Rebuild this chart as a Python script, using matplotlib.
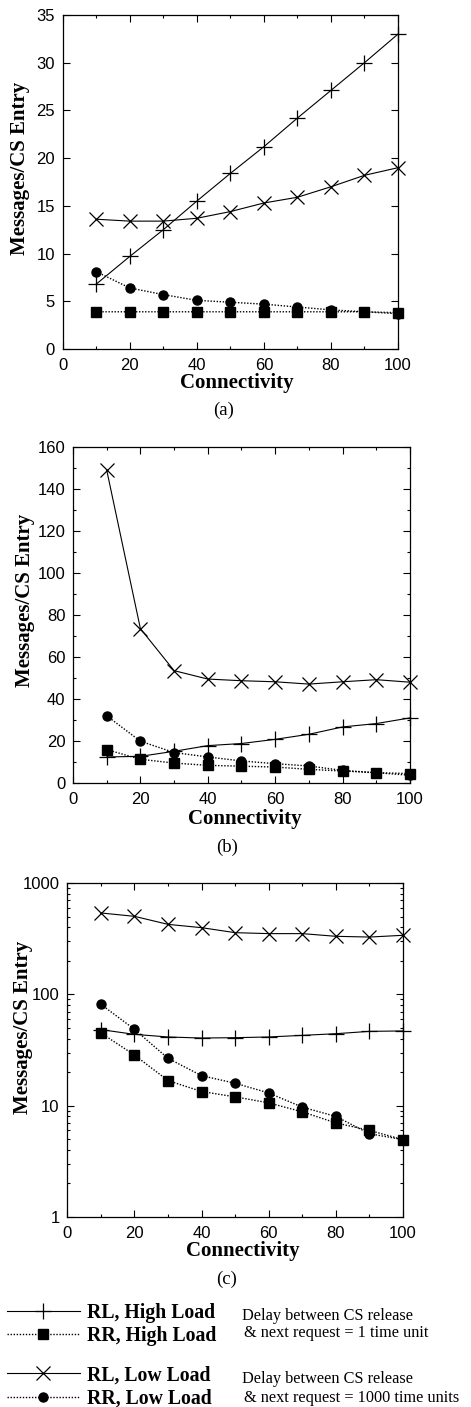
import numpy as np
import matplotlib
matplotlib.use("Agg")
import matplotlib.pyplot as plt
from matplotlib.ticker import MultipleLocator, LogLocator, NullFormatter, FuncFormatter

# connectivity values (x axis)
connectivity = [10, 20, 30, 40, 50, 60, 70, 80, 90, 100]

# (a)
a_rl_high = [6.8, 9.7, 12.5, 15.5, 18.4, 21.2, 24.2, 27.1, 30.0, 33.0]
a_rr_high = [3.9, 3.9, 3.9, 3.9, 3.9, 3.9, 3.9, 3.9, 3.9, 3.8]
a_rl_low = [13.6, 13.4, 13.4, 13.7, 14.4, 15.3, 15.9, 17.0, 18.2, 19.0]
a_rr_low = [8.1, 6.4, 5.7, 5.1, 4.9, 4.7, 4.4, 4.1, 3.9, 3.7]

# (b)
b_rl_high = [12.4, 12.7, 15.1, 17.8, 18.8, 20.8, 23.2, 26.7, 28.3, 31.0]
b_rr_high = [15.9, 11.3, 9.5, 8.4, 8.0, 7.6, 6.5, 5.7, 4.9, 4.5]
b_rl_low = [149.0, 73.5, 53.5, 49.5, 48.7, 48.2, 47.1, 48.2, 49.2, 48.0]
b_rr_low = [32.0, 19.9, 14.5, 12.4, 10.5, 9.2, 8.1, 6.0, 4.9, 3.7]

# (c)
c_rl_high = [48.2, 43.7, 41.4, 40.5, 40.8, 41.4, 42.8, 44.3, 46.5, 46.9]
c_rr_high = [45.0, 28.5, 16.8, 13.4, 12.0, 10.6, 8.8, 7.0, 6.0, 4.95]
c_rl_low = [538, 502, 425, 397, 358, 351, 351, 332, 327, 339]
c_rr_low = [81.3, 48.5, 26.6, 18.6, 15.9, 13.0, 9.7, 8.0, 5.6, 4.95]

labels = ["RL, High Load", "RR, High Load", "RL, Low Load", "RR, Low Load"]

W, H = 471, 1407
fig = plt.figure(figsize=(W / 100, H / 100), dpi=100)

SANS = "Liberation Sans"
SERIF = "Liberation Serif"


def px(x0, y0, x1, y1):
    return [x0 / W, 1 - y1 / H, (x1 - x0) / W, (y1 - y0) / H]


def draw(ax, rl_high, rr_high, rl_low, rr_low):
    h1, = ax.plot(connectivity, rl_high, color="black", lw=0.8, ls="-",
                  marker="+", ms=11, mew=0.9, clip_on=False)
    h2, = ax.plot(connectivity, rr_high, color="black", lw=1.0, ls=(0, (1, 1.2)),
                  marker="s", ms=6.5, clip_on=False)
    h3, = ax.plot(connectivity, rl_low, color="black", lw=0.8, ls="-",
                  marker="x", ms=10, mew=0.9, clip_on=False)
    h4, = ax.plot(connectivity, rr_low, color="black", lw=1.0, ls=(0, (1, 1.2)),
                  marker="o", ms=6.5, clip_on=False)
    ax.set_xlim(0, 100)
    ax.xaxis.set_major_locator(MultipleLocator(20))
    ax.xaxis.set_minor_locator(MultipleLocator(10))
    ax.tick_params(which="both", direction="in", top=True, right=True, width=0.8)
    ax.tick_params(which="major", length=5, labelsize=12)
    ax.tick_params(axis="x", which="major", pad=6.5)
    ax.tick_params(axis="y", which="major", pad=5.5)
    ax.tick_params(which="minor", length=2.5)
    for s in ax.spines.values():
        s.set_linewidth(0.9)
    return [h1, h2, h3, h4]


def sans_ticks(ax):
    for lab in ax.get_xticklabels() + ax.get_yticklabels():
        lab.set_fontfamily(SANS)


def captions(cx, cap_x, ylab_x, ylab_y, conn_y, cap_y, cap):
    fig.text(cx / W, 1 - conn_y / H, "Connectivity", family=SERIF,
             weight="bold", size=15, ha="center", va="center")
    fig.text(cap_x / W, 1 - cap_y / H, cap, family=SERIF, size=13.5,
             ha="center", va="center")
    fig.text(ylab_x / W, 1 - ylab_y / H, "Messages/CS Entry", family=SERIF,
             weight="bold", size=15, rotation=90, ha="center", va="center")


# (a)
ax_a = fig.add_axes(px(62.7, 15, 398, 349))
draw(ax_a, a_rl_high, a_rr_high, a_rl_low, a_rr_low)
ax_a.set_ylim(0, 35)
ax_a.yaxis.set_major_locator(MultipleLocator(5))
sans_ticks(ax_a)
captions(237, 224, 20, 168, 383, 410, "(a)")

# (b)
ax_b = fig.add_axes(px(73, 447, 410, 783))
draw(ax_b, b_rl_high, b_rr_high, b_rl_low, b_rr_low)
ax_b.set_ylim(0, 160)
ax_b.yaxis.set_major_locator(MultipleLocator(20))
ax_b.yaxis.set_minor_locator(MultipleLocator(10))
sans_ticks(ax_b)
captions(245, 227, 25, 600, 819, 847, "(b)")

# (c)
ax_c = fig.add_axes(px(67.3, 883, 403, 1217))
handles = draw(ax_c, c_rl_high, c_rr_high, c_rl_low, c_rr_low)
ax_c.set_yscale("log")
ax_c.set_ylim(1, 1000)
ax_c.yaxis.set_major_locator(LogLocator(base=10))
ax_c.yaxis.set_minor_locator(LogLocator(base=10, subs=np.arange(2, 10)))
ax_c.yaxis.set_minor_formatter(NullFormatter())
ax_c.yaxis.set_major_formatter(FuncFormatter(lambda v, p: f"{v:g}"))
ax_c.tick_params(which="both", direction="in", right=True)
ax_c.tick_params(which="minor", length=2.5)
sans_ticks(ax_c)
captions(243, 227, 23, 1027, 1251, 1279, "(c)")

# legend
leg_prop = {"family": SERIF, "weight": "bold", "size": 14.2}
for hs, labs, yc in [(handles[:2], labels[:2], 1324.5), (handles[2:], labels[2:], 1387)]:
    fig.legend(hs, labs, loc="center left", bbox_to_anchor=(7 / W, 1 - yc / H),
               frameon=False, prop=leg_prop, handlelength=3.7,
               handletextpad=0.35, labelspacing=0.18, borderpad=0.0,
               borderaxespad=0.0)

note_rows = [
    (242, 1316, "Delay between CS release"),
    (244, 1333, "& next request = 1 time unit"),
    (242, 1379, "Delay between CS release"),
    (244, 1398, "& next request = 1000 time units"),
]
for x, y, t in note_rows:
    fig.text(x / W, 1 - y / H, t, family=SERIF, size=11.7, ha="left", va="center")

fig.savefig("out.png", dpi=100)
